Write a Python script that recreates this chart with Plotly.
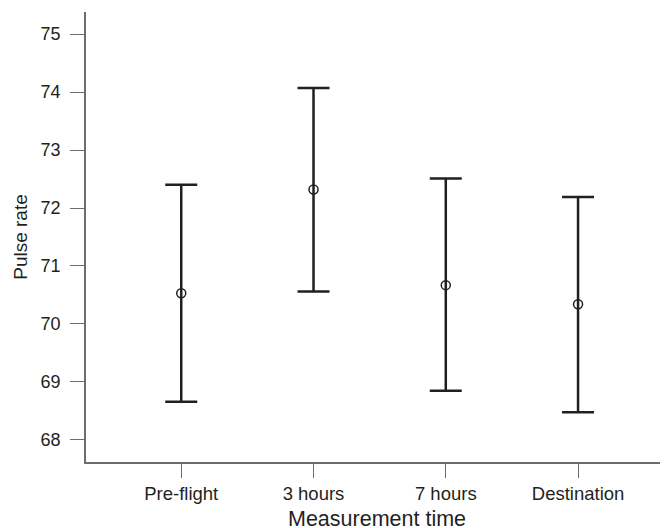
import plotly.graph_objects as go

categories = ["Pre-flight", "3 hours", "7 hours", "Destination"]
means = [70.53, 72.32, 70.67, 70.34]
upper = [72.40, 74.07, 72.51, 72.19]
lower = [68.66, 70.56, 68.85, 68.48]

err_plus = [u - m for u, m in zip(upper, means)]
err_minus = [m - l for m, l in zip(means, lower)]

ink = "#231f20"
axis_col = "#6d6d6d"
font = "Liberation Sans, Arial, Helvetica, sans-serif"

fig = go.Figure(go.Scatter(
    x=list(range(len(categories))), y=means, mode="markers",
    marker=dict(symbol="circle-open", size=9, color=ink, line=dict(width=1.5, color=ink)),
    error_y=dict(type="data", symmetric=False, array=err_plus, arrayminus=err_minus,
                 color=ink, thickness=2.5, width=16),
    showlegend=False, hoverinfo="skip",
))

fig.update_layout(
    width=660, height=520,
    margin=dict(l=78, r=0, t=4, b=66),
    plot_bgcolor="white", paper_bgcolor="white",
    font=dict(family=font, color=ink, size=18),
    xaxis=dict(
        range=[-0.72, 3.68], tickmode="array", tickvals=list(range(len(categories))),
        ticktext=categories, showgrid=False, zeroline=False, automargin=False,
        showline=True, linecolor=axis_col, linewidth=1.5,
        ticks="outside", ticklen=14, tickwidth=1.2, tickcolor=axis_col,
        tickfont=dict(size=18.5, family=font, color=ink),
        ticklabelstandoff=0,
    ),
    yaxis=dict(
        range=[67.62, 75.38], tickmode="array", tickvals=[68, 69, 70, 71, 72, 73, 74, 75],
        showgrid=False, zeroline=False, automargin=False,
        showline=True, linecolor=axis_col, linewidth=1.5,
        ticks="outside", ticklen=14, tickwidth=1.2, tickcolor=axis_col,
        tickfont=dict(size=18, family=font, color=ink),
        ticklabelstandoff=6,
        title=dict(text="Pulse rate", font=dict(size=19, family=font, color=ink), standoff=8),
    ),
    annotations=[dict(
        text="Measurement time", xref="paper", yref="paper", x=0.5, y=0,
        xanchor="center", yanchor="top", yshift=-43, showarrow=False,
        font=dict(size=21.5, family=font, color=ink),
    )],
)

fig.write_html("out.html")
